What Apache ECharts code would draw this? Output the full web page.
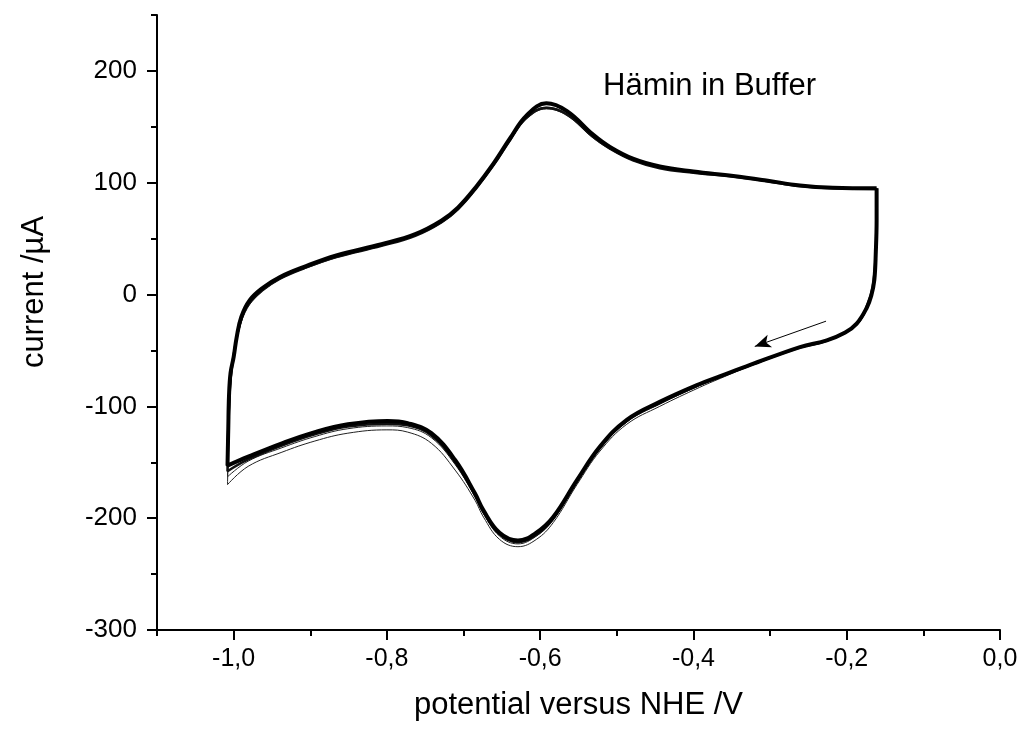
<!DOCTYPE html>
<html>
<head>
<meta charset="utf-8">
<title>Hämin in Buffer – Cyclovoltammogramm</title>
<script src="https://cdn.jsdelivr.net/npm/echarts@6/dist/echarts.min.js"></script>
<style>
  html, body { margin: 0; padding: 0; background: #fff; }
  #chart { width: 1023px; height: 731px; }
</style>
</head>
<body>
<div id="chart"></div>
<script>
// Potential (V vs. NHE) and current (µA) of the recorded cycles.
// Each cycle: cathodic sweep from -0.16 V to -1.01 V, then anodic sweep back.

// Steady-state cycles (overlapping band)
const E_steady_cat = [-0.161, -0.161, -0.162, -0.164, -0.168, -0.174, -0.187, -0.202, -0.226, -0.261, -0.326, -0.365, -0.392, -0.444, -0.487, -0.522, -0.552, -0.583, -0.605, -0.629, -0.653, -0.674, -0.685, -0.711, -0.742, -0.773, -0.799, -0.851, -0.894, -0.937, -0.981, -1.008];
const I_steady_cat = [95, 66, 39, 13, -1, -12, -26, -34, -41, -47, -63, -73, -80, -96, -112, -136, -166, -199, -213, -220, -213, -193, -178, -148, -124, -115, -113, -116, -123, -133, -145, -153];
const E_steady_an = [-1.008, -1.007, -1.006, -1.004, -1.0, -0.996, -0.99, -0.979, -0.961, -0.94, -0.909, -0.866, -0.807, -0.763, -0.729, -0.707, -0.684, -0.661, -0.639, -0.618, -0.592, -0.565, -0.531, -0.509, -0.479, -0.444, -0.4, -0.348, -0.305, -0.261, -0.218, -0.161];
const I_steady_an = [-153, -120, -90, -70, -56, -38, -20, -5, 6.5, 15.5, 24.5, 35, 45, 54, 66, 78, 96, 117, 140, 160, 171, 164, 143, 132, 121.5, 114.5, 110, 106, 102, 97.5, 95.5, 95];

// Third cycle (lower edge of the band)
const E_c3_cat = [-0.161, -0.162, -0.165, -0.17, -0.187, -0.226, -0.261, -0.326, -0.365, -0.392, -0.444, -0.487, -0.522, -0.552, -0.583, -0.605, -0.629, -0.653, -0.674, -0.685, -0.711, -0.742, -0.773, -0.8, -0.851, -0.894, -0.937, -0.981, -1.008];
const I_c3_cat = [95, 40, 12, -3, -26.5, -41, -47, -63, -73.5, -80.5, -97, -113, -137, -167, -200.5, -215, -221.5, -214.5, -194.5, -179.5, -150, -126, -117, -115.5, -118, -125, -135, -147.5, -158];
const E_c3_an = [-1.008, -1.007, -1.005, -1.002, -0.998, -0.992, -0.982, -0.962, -0.94, -0.908, -0.866, -0.807, -0.763, -0.729, -0.707, -0.684, -0.661, -0.639, -0.618, -0.592, -0.565, -0.531, -0.509, -0.479, -0.444, -0.4, -0.348, -0.305, -0.261, -0.218, -0.161];
const I_c3_an = [-158, -120, -84, -64, -46, -27, -10, 4, 14, 23.5, 33.5, 43.5, 52.5, 64.5, 76.5, 94.5, 115.5, 138.5, 158, 167, 161, 141, 130.5, 120, 113, 109, 105.5, 101.5, 97, 95, 94.5];

// First cycle
const E_c1_cat = [-0.161, -0.162, -0.165, -0.17, -0.187, -0.226, -0.261, -0.326, -0.365, -0.392, -0.444, -0.487, -0.522, -0.552, -0.583, -0.605, -0.629, -0.653, -0.674, -0.685, -0.711, -0.742, -0.773, -0.8, -0.851, -0.894, -0.937, -0.981, -1.008];
const I_c1_cat = [95, 40, 10, -5, -27, -42, -48, -64, -75, -83, -100, -116, -140, -170, -204, -219, -225.5, -219, -199, -184, -157, -133, -123, -121, -124, -131, -141, -153.6, -170];
const E_c1_an = [-1.008, -1.006, -1.003, -0.999, -0.993, -0.985, -0.972, -0.955, -0.93, -0.9, -0.866, -0.807, -0.763, -0.729, -0.707, -0.684, -0.661, -0.639, -0.618, -0.592, -0.565, -0.531, -0.509, -0.479, -0.444, -0.4, -0.348, -0.305, -0.261, -0.218, -0.161];
const I_c1_an = [-170, -120, -75, -52, -32, -16, -3, 7, 17, 25, 33, 43.5, 52.5, 64, 76, 94, 115, 138, 157, 166, 160, 140, 130, 120, 113, 109, 105.5, 101.5, 97, 95, 94.5];

// Second cycle
const E_c2_cat = [-0.161, -0.162, -0.165, -0.17, -0.187, -0.226, -0.261, -0.326, -0.365, -0.392, -0.444, -0.487, -0.522, -0.552, -0.583, -0.605, -0.629, -0.653, -0.674, -0.685, -0.711, -0.742, -0.773, -0.8, -0.851, -0.894, -0.937, -0.981, -1.008];
const I_c2_cat = [95, 40, 11, -4, -27, -41.5, -47.5, -63.5, -74, -81.5, -98, -114, -138, -168, -201.5, -216, -223, -216, -196, -181, -152, -128, -119, -117.5, -120, -127, -137, -149, -163];
const E_c2_an = [-1.008, -1.006, -1.004, -1.001, -0.996, -0.989, -0.977, -0.958, -0.936, -0.905, -0.866, -0.807, -0.763, -0.729, -0.707, -0.684, -0.661, -0.639, -0.618, -0.592, -0.565, -0.531, -0.509, -0.479, -0.444, -0.4, -0.348, -0.305, -0.261, -0.218, -0.161];
const I_c2_an = [-163, -120, -80, -60, -40, -21, -5, 6, 16, 25, 34, 44, 53, 65, 77, 95, 116, 139, 158.5, 167.5, 161.5, 141, 131, 120.5, 113.5, 109.5, 106, 101.5, 97, 95, 94.5];

// Sweep-direction arrow (start, end) in V / µA
const ARROW_FROM = [-0.227, -23.8];
const ARROW_TO = [-0.32, -46.4];

// Axis ticks
const X_MAJOR = [-1.0, -0.8, -0.6, -0.4, -0.2, 0.0];
const X_MINOR = [-1.1, -0.9, -0.7, -0.5, -0.3, -0.1];
const Y_MAJOR = [-300, -200, -100, 0, 100, 200];
const Y_MINOR = [-250, -150, -50, 50, 150, 250];

const FONT = '"Liberation Sans", Arial, Helvetica, sans-serif';

function zip(E, I) {
  return E.map((e, k) => [e, I[k]]);
}
function loop(Ec, Ic, Ea, Ia) {
  return zip(Ec, Ic).concat(zip(Ea, Ia).slice(1));
}

const chart = echarts.init(document.getElementById('chart'), null, { renderer: 'canvas' });

const baseX = { type: 'value', min: -1.1, max: 0, position: 'bottom', splitLine: { show: false } };
const baseY = { type: 'value', min: -300, max: 250, position: 'left', splitLine: { show: false } };

function cycleSeries(name, data, width, color, z) {
  return {
    name: name,
    type: 'line',
    data: data,
    xAxisIndex: 0,
    yAxisIndex: 0,
    showSymbol: false,
    smooth: 0.4,
    lineStyle: { color: color, width: width },
    z: z,
    silent: true
  };
}

const option = {
  animation: false,
  backgroundColor: '#fff',
  grid: { left: 157, right: 23, top: 15, bottom: 101, containLabel: false },
  xAxis: [
    Object.assign({}, baseX, {
      name: 'potential versus NHE /V',
      nameLocation: 'middle',
      nameGap: 60,
      nameTextStyle: { fontFamily: FONT, fontSize: 31, color: '#000' },
      axisLine: { show: true, onZero: false, lineStyle: { color: '#000', width: 2 } },
      axisTick: { show: true, customValues: X_MAJOR, length: 10, lineStyle: { color: '#000', width: 2 } },
      axisLabel: {
        customValues: X_MAJOR,
        margin: 17,
        fontFamily: FONT,
        fontSize: 25,
        color: '#000',
        formatter: v => v.toFixed(1).replace('.', ',')
      }
    }),
    Object.assign({}, baseX, {
      axisLine: { show: false, onZero: false },
      axisTick: { show: true, customValues: X_MINOR, length: 6, lineStyle: { color: '#000', width: 2 } },
      axisLabel: { show: false }
    })
  ],
  yAxis: [
    Object.assign({}, baseY, {
      axisLine: { show: true, onZero: false, lineStyle: { color: '#000', width: 2 } },
      axisTick: { show: true, customValues: Y_MAJOR, length: 10, lineStyle: { color: '#000', width: 2 } },
      axisLabel: {
        customValues: Y_MAJOR,
        margin: 20,
        fontFamily: FONT,
        fontSize: 26,
        color: '#000'
      }
    }),
    Object.assign({}, baseY, {
      axisLine: { show: false, onZero: false },
      axisTick: { show: true, customValues: Y_MINOR, length: 6, lineStyle: { color: '#000', width: 2 } },
      axisLabel: { show: false }
    })
  ],
  graphic: [
    {
      // y-axis title
      type: 'text',
      x: 34,
      y: 292,
      rotation: Math.PI / 2,
      style: {
        text: 'current /\u00B5A',
        font: '31px ' + FONT,
        fill: '#000',
        align: 'center',
        verticalAlign: 'middle'
      }
    },
    {
      type: 'text',
      left: 603,
      top: 71,
      style: { text: 'Hämin in Buffer', font: '31px ' + FONT, fill: '#000' }
    }
  ],
  series: [
    cycleSeries('Zyklus 1', loop(E_c1_cat, I_c1_cat, E_c1_an, I_c1_an), 1, '#222', 2),
    cycleSeries('Zyklus 2', loop(E_c2_cat, I_c2_cat, E_c2_an, I_c2_an), 1, '#222', 3),
    cycleSeries('Zyklus 3', loop(E_c3_cat, I_c3_cat, E_c3_an, I_c3_an), 2.5, '#111', 4),
    Object.assign(cycleSeries('Zyklen 4–10', loop(E_steady_cat, I_steady_cat, E_steady_an, I_steady_an), 4, '#000', 5), {
      markLine: {
        silent: true,
        symbol: ['none', 'arrow'],
        symbolSize: [10, 16],
        label: { show: false },
        lineStyle: { color: '#000', width: 1, type: 'solid' },
        data: [[{ coord: ARROW_FROM }, { coord: ARROW_TO }]]
      }
    })
  ]
};

chart.setOption(option);
</script>
</body>
</html>
